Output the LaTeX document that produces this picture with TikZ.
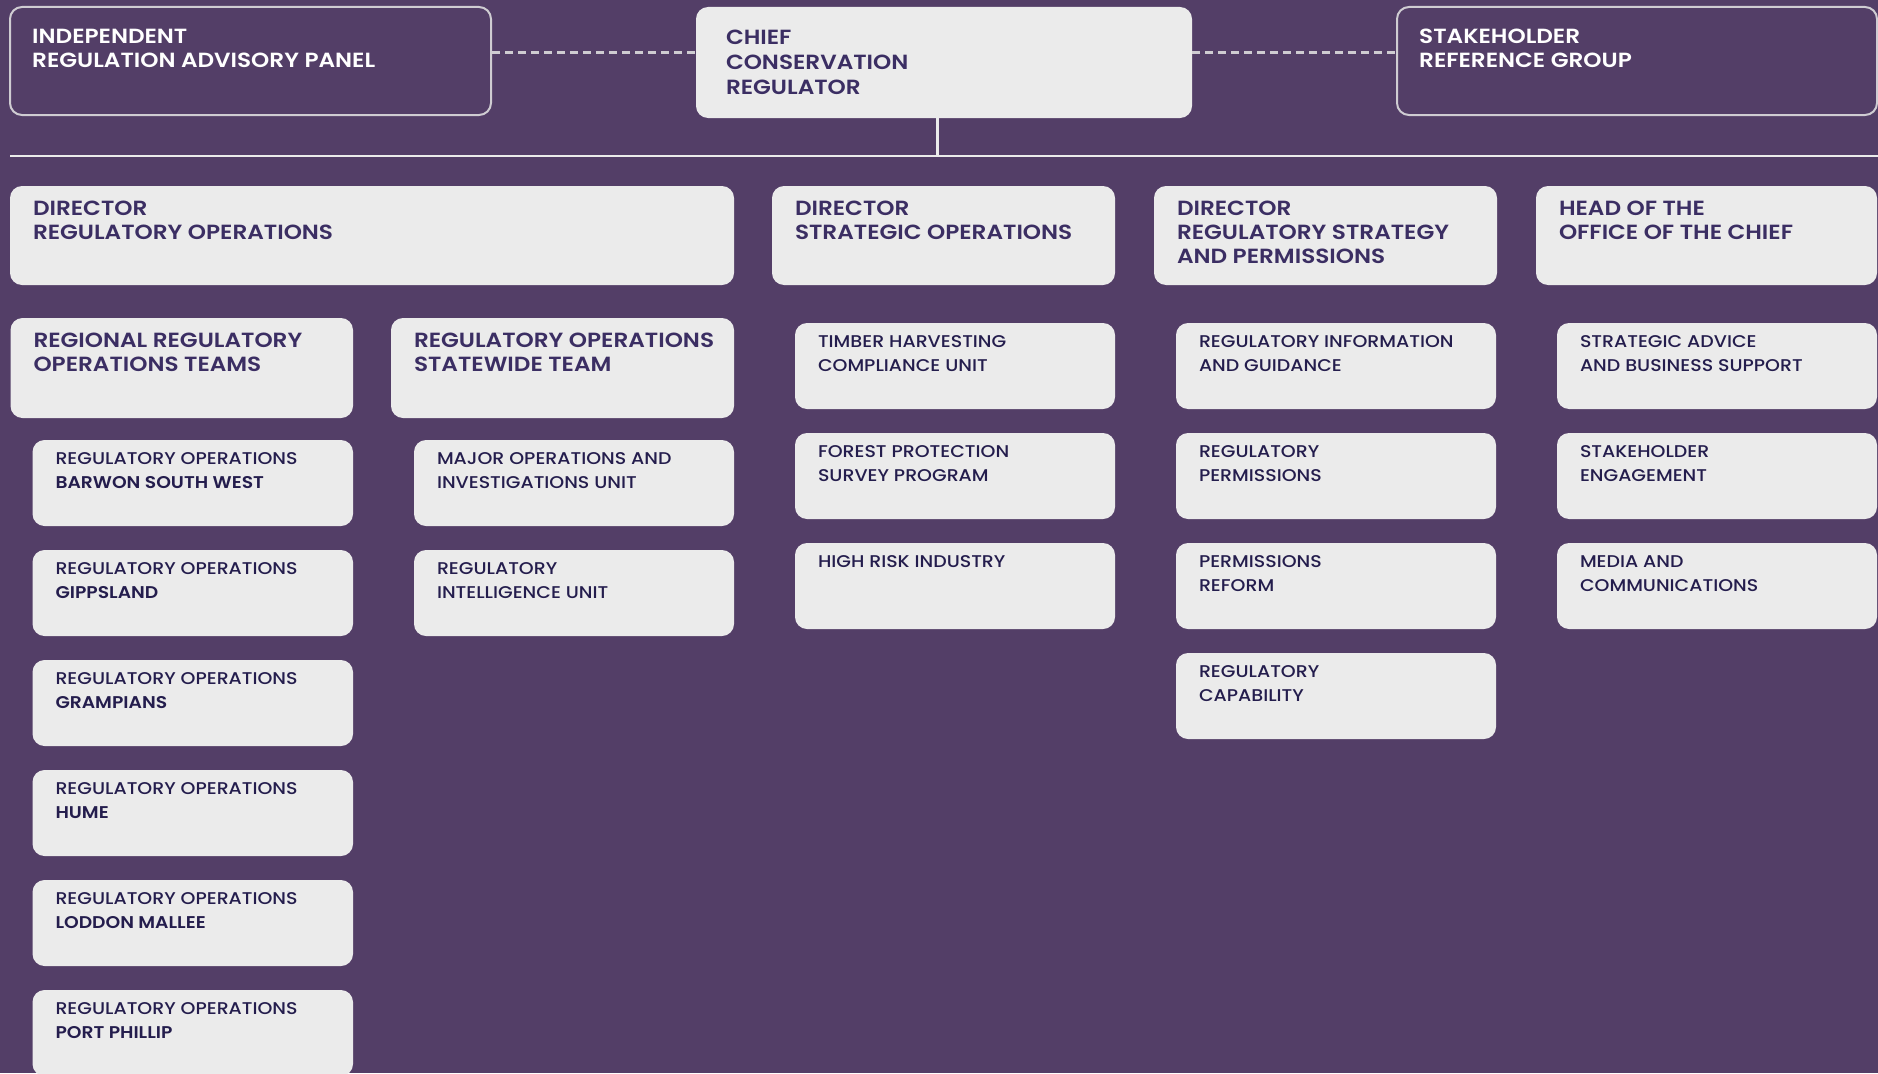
\documentclass[tikz,border=0pt]{standalone}
\usepackage{fontspec}
\usetikzlibrary{fit}
\newfontfamily\hdrfont{Poppins SemiBold}[FakeStretch=1.13]
\newfontfamily\subfont{Poppins Medium}[FakeStretch=1.115,BoldFont={Poppins SemiBold},BoldFeatures={FakeStretch=1.1}]
\definecolor{bgcol}{HTML}{533E67}
\definecolor{boxgray}{HTML}{EBEBEB}
\definecolor{linecol}{HTML}{CFCCD2}
\definecolor{hdrcol}{HTML}{3B2E63}
\definecolor{subcol}{HTML}{241D4D}
\tikzset{
  box/.style={rounded corners=12pt, fill=boxgray, inner sep=0pt, draw=none},
  outbox/.style={rounded corners=12pt, fill=bgcol, draw=linecol, line width=2pt, inner sep=0pt},
  hdr/.style={inner sep=0pt, align=left, text=hdrcol, font={\hdrfont\fontsize{20.5}{24}\selectfont}},
  hdrw/.style={hdr, text=white},
  subtxt/.style={inner sep=0pt, align=left, text=subcol, font={\subfont\fontsize{17}{24}\selectfont}},
  dashline/.style={draw=linecol, line width=3pt, dash pattern=on 8pt off 5pt},
  solidline/.style={draw=boxgray, line width=2.5pt}
}
\newcommand\mkbox[5]{%
  \node[box, fit={(#2,#3) (#4,#3+86)}] (#1) {};
  \node[subtxt, anchor=north west] (#1-t) at ([shift={(23pt,-12.8pt)}]#1.north west) {#5};}
\newcommand\mkhdr[6]{%
  \node[box, fit={(#2,#3) (#4,#5)}] (#1) {};
  \node[hdr, anchor=north west] (#1-t) at ([shift={(23pt,-14.8pt)}]#1.north west) {#6};}
\begin{document}
\begin{tikzpicture}[x=1pt,y=-1pt]
\useasboundingbox (0,0) rectangle (1878,1073);
\fill[bgcol] (0,0) rectangle (1878,1073);
% top row
\node[outbox, fit={(10,7) (491,115)}] (irap) {};
\node[hdrw, anchor=north west] (irap-t) at ([shift={(23pt,-23pt)}]irap.north west) {INDEPENDENT\\REGULATION ADVISORY PANEL};
\node[box, fit={(696,7) (1192,118)}] (chief) {};
\node[hdr, anchor=north west, font={\hdrfont\fontsize{20.5}{25}\selectfont}] (chief-t) at ([shift={(30pt,-23pt)}]chief.north west) {CHIEF\\CONSERVATION\\REGULATOR};
\node[outbox, fit={(1397,7) (1877,115)}] (srg) {};
\node[hdrw, anchor=north west] (srg-t) at ([shift={(23pt,-23pt)}]srg.north west) {STAKEHOLDER\\REFERENCE GROUP};
% connectors
\coordinate (dl) at ([yshift=8pt]irap.east);
\draw[dashline] (dl) -- (chief.west |- dl);
\coordinate (dr) at ([yshift=8pt]srg.west);
\draw[dashline] (chief.east |- dr) -- (dr);
\coordinate (hl) at (10,156);
\coordinate (hr) at (1878,156);
\draw[solidline] (hl) -- (hr);
\coordinate (cv) at ([xshift=-6.5pt]chief.south);
\draw[solidline] (cv) -- (cv |- hl);
% directors
\mkhdr{dro}{10}{186}{734}{285}{DIRECTOR\\REGULATORY OPERATIONS}
\mkhdr{dso}{772}{186}{1115}{285}{DIRECTOR\\STRATEGIC OPERATIONS}
\mkhdr{drsp}{1154}{186}{1497}{285}{DIRECTOR\\REGULATORY STRATEGY\\AND PERMISSIONS}
\mkhdr{hoc}{1536}{186}{1877}{285}{HEAD OF THE\\OFFICE OF THE CHIEF}
% second level
\mkhdr{rrot}{10.5}{318}{353}{418}{REGIONAL REGULATORY\\OPERATIONS TEAMS}
\mkhdr{rost}{391}{318}{734}{418}{REGULATORY OPERATIONS\\STATEWIDE TEAM}
% regional teams
\mkbox{bsw}{32.5}{440}{353}{REGULATORY OPERATIONS\\\textbf{BARWON SOUTH WEST}}
\mkbox{gip}{32.5}{550}{353}{REGULATORY OPERATIONS\\\textbf{GIPPSLAND}}
\mkbox{gra}{32.5}{660}{353}{REGULATORY OPERATIONS\\\textbf{GRAMPIANS}}
\mkbox{hum}{32.5}{770}{353}{REGULATORY OPERATIONS\\\textbf{HUME}}
\mkbox{lod}{32.5}{880}{353}{REGULATORY OPERATIONS\\\textbf{LODDON MALLEE}}
\mkbox{pph}{32.5}{990}{353}{REGULATORY OPERATIONS\\\textbf{PORT PHILLIP}}
% statewide
\mkbox{moiu}{414}{440}{734}{MAJOR OPERATIONS AND\\INVESTIGATIONS UNIT}
\mkbox{riu}{414}{550}{734}{REGULATORY\\INTELLIGENCE UNIT}
% strategic operations
\mkbox{thcu}{795}{323}{1115}{TIMBER HARVESTING\\COMPLIANCE UNIT}
\mkbox{fpsp}{795}{433}{1115}{FOREST PROTECTION\\SURVEY PROGRAM}
\mkbox{hri}{795}{543}{1115}{HIGH RISK INDUSTRY}
% regulatory strategy
\mkbox{rig}{1176}{323}{1496}{REGULATORY INFORMATION\\AND GUIDANCE}
\mkbox{rp}{1176}{433}{1496}{REGULATORY\\PERMISSIONS}
\mkbox{pr}{1176}{543}{1496}{PERMISSIONS\\REFORM}
\mkbox{rc}{1176}{653}{1496}{REGULATORY\\CAPABILITY}
% office of the chief
\mkbox{sabs}{1557}{323}{1877}{STRATEGIC ADVICE\\AND BUSINESS SUPPORT}
\mkbox{se}{1557}{433}{1877}{STAKEHOLDER\\ENGAGEMENT}
\mkbox{mc}{1557}{543}{1877}{MEDIA AND\\COMMUNICATIONS}
\end{tikzpicture}
\end{document}
